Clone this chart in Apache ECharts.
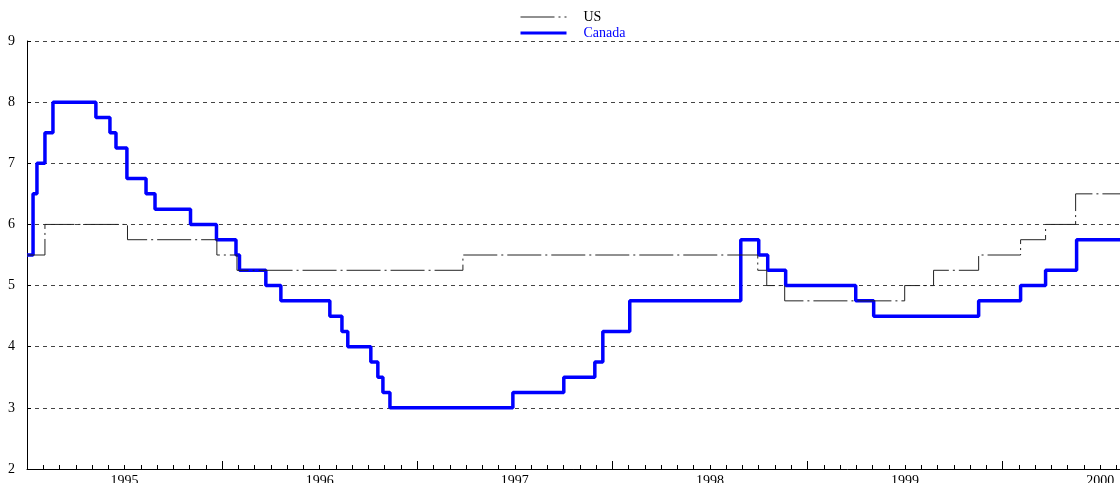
<!DOCTYPE html>
<html>
<head>
<meta charset="utf-8">
<script src="https://cdn.jsdelivr.net/npm/echarts@6/dist/echarts.min.js"></script>
<style>
  html, body { margin: 0; padding: 0; background: #fff; }
  #chart { width: 1120px; height: 483px; }
</style>
</head>
<body>
<div id="chart"></div>
<script>
// step dates (decimal years) and rates
var usDates = [1995.0, 1995.092, 1995.515, 1995.973, 1996.076, 1997.234, 1998.745, 1998.791, 1998.883, 1999.498, 1999.646, 1999.877, 2000.092, 2000.220, 2000.374, 2000.75];
var usRates = [5.5, 6.0, 5.75, 5.5, 5.25, 5.5, 5.25, 5.0, 4.75, 5.0, 5.25, 5.5, 5.75, 6.0, 6.5, 6.5];

var canDates = [1995.0, 1995.031, 1995.051, 1995.092, 1995.133, 1995.353, 1995.425, 1995.456, 1995.512, 1995.610, 1995.656, 1995.838, 1995.971,
                1996.071, 1996.089, 1996.224, 1996.301, 1996.552, 1996.614, 1996.644, 1996.762, 1996.798, 1996.824, 1996.860,
                1997.490, 1997.751, 1997.910, 1997.951, 1998.089, 1998.658, 1998.750, 1998.796, 1998.888,
                1999.247, 1999.339, 1999.877, 2000.092, 2000.220, 2000.379, 2000.75];
var canRates = [5.5, 6.5, 7.0, 7.5, 8.0, 7.75, 7.5, 7.25, 6.75, 6.5, 6.25, 6.0, 5.75,
                5.5, 5.25, 5.0, 4.75, 4.5, 4.25, 4.0, 3.75, 3.5, 3.25, 3.0,
                3.25, 3.5, 3.75, 4.25, 4.75, 5.75, 5.5, 5.25, 5.0,
                4.75, 4.5, 4.75, 5.0, 5.25, 5.75, 5.75];

var yearLabels = ['1995', '1996', '1997', '1998', '1999', '2000'];
var yTicks = [2, 9];

function pairs(xs, ys) {
    var out = [];
    for (var i = 0; i < xs.length; i++) out.push([xs[i], ys[i]]);
    return out;
}

var serif = '"Liberation Serif", "DejaVu Serif", serif';
var xMin = 1995, xMax = 2000.75;

var myChart = echarts.init(document.getElementById('chart'));
var option = {
    animation: false,
    backgroundColor: '#fff',
    legend: {
        orient: 'vertical',
        left: 514,
        top: 5,
        itemWidth: 46,
        itemHeight: 14,
        itemGap: 2,
        itemStyle: { opacity: 0 },
        textStyle: { fontFamily: serif, fontSize: 14, padding: [0, 0, 0, 12] },
        data: [
            { name: 'US', textStyle: { color: '#000' }, lineStyle: { width: 1.2 } },
            { name: 'Canada', textStyle: { color: '#0000ff' }, lineStyle: { width: 3 } }
        ]
    },
    grid: { left: 27, top: 41, height: 428, width: 1122, outerBoundsMode: 'none', containLabel: false },
    xAxis: [
        {
            type: 'value',
            min: xMin, max: xMax, interval: 0.5,
            axisLine: { show: true, lineStyle: { color: '#000', width: 1 } },
            axisTick: { show: false },
            splitLine: { show: false },
            axisLabel: {
                margin: 5,
                fontFamily: serif, fontSize: 14, color: '#000',
                showMinLabel: false, showMaxLabel: false,
                formatter: function (v) {
                    var f = Math.floor(v);
                    if (Math.abs(v - f - 0.5) < 1e-6) {
                        return yearLabels[f - 1995] || '';
                    }
                    return '';
                }
            }
        },
        {
            type: 'value',
            position: 'bottom',
            min: xMin, max: xMax, interval: 1,
            axisLine: { show: false },
            axisLabel: { show: false },
            splitLine: { show: false },
            axisTick: { show: true, inside: true, length: 8, lineStyle: { color: '#000' } },
            minorTick: { show: true, splitNumber: 12, length: 4, lineStyle: { color: '#000' } }
        }
    ],
    yAxis: {
        type: 'value',
        min: yTicks[0], max: yTicks[1], interval: 1,
        axisLine: { show: true, lineStyle: { color: '#000', width: 1 } },
        axisTick: { show: true, inside: true, length: 4, lineStyle: { color: '#000' } },
        axisLabel: { margin: 12, fontFamily: serif, fontSize: 14, color: '#000' },
        splitLine: { show: true, lineStyle: { color: '#444', type: [4, 4], width: 1 } }
    },
    series: [
        {
            name: 'US',
            type: 'line',
            step: 'end',
            symbol: 'none',
            xAxisIndex: 0,
            data: pairs(usDates, usRates),
            lineStyle: { color: '#222', width: 1, type: [34, 4, 2, 4] },
            itemStyle: { color: '#222' },
            z: 3
        },
        {
            name: 'Canada',
            type: 'line',
            step: 'end',
            symbol: 'none',
            xAxisIndex: 0,
            data: pairs(canDates, canRates),
            lineStyle: { color: '#0000ff', width: 3.5 },
            itemStyle: { color: '#0000ff' },
            z: 2
        }
    ]
};
myChart.setOption(option, true);
</script>
</body>
</html>
